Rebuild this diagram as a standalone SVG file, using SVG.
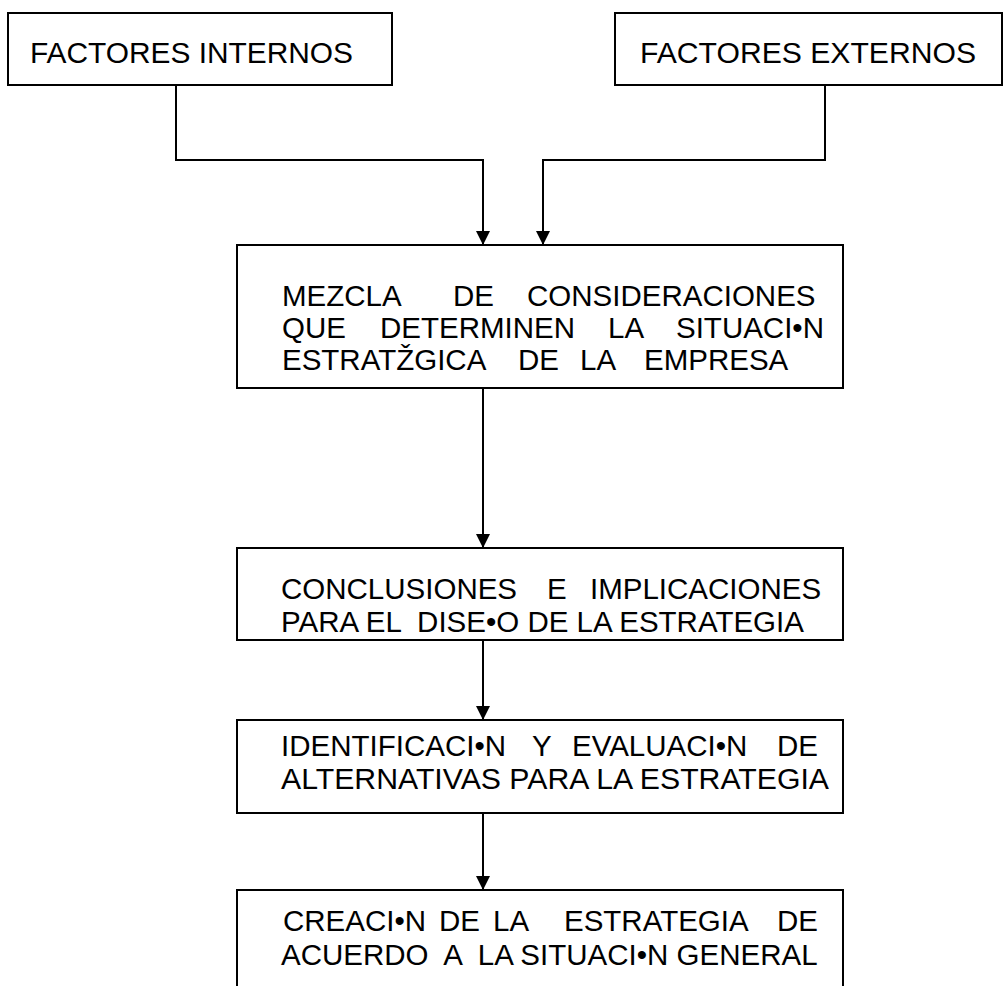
<svg xmlns="http://www.w3.org/2000/svg" width="1003" height="986" viewBox="0 0 1003 986">
<style>
.box{fill:#fff;stroke:#000;stroke-width:2}
.t{font-family:"Liberation Sans",Arial,sans-serif;font-size:29.5px;fill:#000}
.c{fill:none;stroke:#000;stroke-width:2}
</style>
<defs>
<marker id="ah" markerWidth="14" markerHeight="14" refX="13" refY="7" orient="auto" markerUnits="userSpaceOnUse">
<path d="M0,0 L14,7 L0,14 z" fill="#000"/>
</marker>
</defs>
<rect width="1003" height="986" fill="#fff"/>
<g id="connectors">
<path class="c" d="M176,85 V160 H483 V244" marker-end="url(#ah)"/>
<path class="c" d="M825,85 V160 H543 V244" marker-end="url(#ah)"/>
<path class="c" d="M483,388 V547" marker-end="url(#ah)"/>
<path class="c" d="M483,640 V719" marker-end="url(#ah)"/>
<path class="c" d="M483,813 V889" marker-end="url(#ah)"/>
</g>
<g id="n1">
<rect class="box" x="8" y="13" width="384" height="72"/>
<text class="t" x="30" y="63" textLength="323" lengthAdjust="spacingAndGlyphs">FACTORES INTERNOS</text>
</g>
<g id="n2">
<rect class="box" x="615" y="13" width="387" height="72"/>
<text class="t" x="640" y="63" textLength="336" lengthAdjust="spacingAndGlyphs">FACTORES EXTERNOS</text>
</g>
<g id="n3">
<rect class="box" x="237" y="245" width="606" height="143"/>
<text class="t" y="306"><tspan x="282">MEZCLA</tspan><tspan x="453">DE</tspan><tspan x="527">CONSIDERACIONES</tspan></text>
<text class="t" y="338"><tspan x="282">QUE</tspan><tspan x="380">DETERMINEN</tspan><tspan x="608">LA</tspan><tspan x="676">SITUACI•N</tspan></text>
<text class="t" y="370"><tspan x="282">ESTRATŽGICA</tspan><tspan x="518">DE</tspan><tspan x="580">LA</tspan><tspan x="644">EMPRESA</tspan></text>
</g>
<g id="n4">
<rect class="box" x="237" y="548" width="606" height="92"/>
<text class="t" y="599"><tspan x="281">CONCLUSIONES</tspan><tspan x="547">E</tspan><tspan x="590">IMPLICACIONES</tspan></text>
<text class="t" x="281" y="632" xml:space="preserve">PARA EL  DISE•O DE LA ESTRATEGIA</text>
</g>
<g id="n5">
<rect class="box" x="237" y="720" width="606" height="93"/>
<text class="t" y="756"><tspan x="281">IDENTIFICACI•N</tspan><tspan x="532">Y</tspan><tspan x="572">EVALUACI•N</tspan><tspan x="777">DE</tspan></text>
<text class="t" x="281" y="789" textLength="548" lengthAdjust="spacingAndGlyphs">ALTERNATIVAS PARA LA ESTRATEGIA</text>
</g>
<g id="n6">
<path class="box" d="M237,990 V890 H843 V990"/>
<text class="t" y="931"><tspan x="283">CREACI•N</tspan><tspan x="439">DE</tspan><tspan x="493">LA</tspan><tspan x="564">ESTRATEGIA</tspan><tspan x="777">DE</tspan></text>
<text class="t" x="281" y="965" xml:space="preserve">ACUERDO  A  LA SITUACI•N GENERAL</text>
</g>
</svg>
